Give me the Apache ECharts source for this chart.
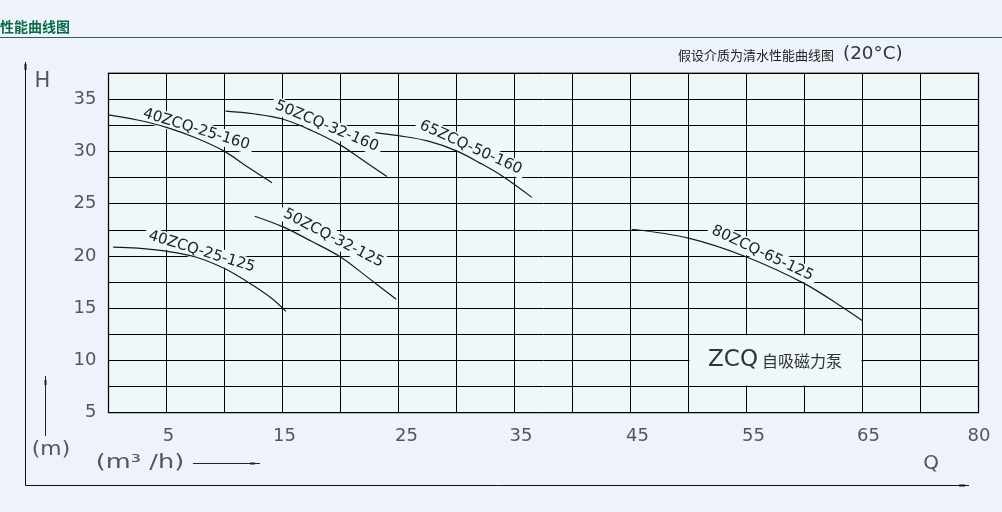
<!DOCTYPE html>
<html><head><meta charset="utf-8">
<script src="https://cdn.jsdelivr.net/npm/echarts/dist/echarts.min.js"></script>
<style>html,body{margin:0;padding:0;background:#eef2fb;}#c{width:1002px;height:512px;}</style>
</head><body><div id="c"></div>
<script>
// ---- tick labels ----
const xTickValues = [5, 15, 25, 35, 45, 55, 65, 75];
const xTickLabels = ['5', '15', '25', '35', '45', '55', '65', '80'];
const yTickValues = [5, 10, 15, 20, 25, 30, 35];
const yTickLabels = ['5', '10', '15', '20', '25', '30', '35'];

// ---- pump curves (Q m3/h, H m) ----
const curveNames = ['40ZCQ-25-160', '50ZCQ-32-160', '65ZCQ-50-160', '40ZCQ-25-125', '50ZCQ-32-125', '80ZCQ-65-125'];
const q40_160 = [0, 2.5, 5, 7.5, 10, 12, 14.1];
const h40_160 = [33.5, 33.0, 32.3, 31.3, 30.0, 28.5, 27.0];
const q50_160 = [10.1, 12.5, 15, 17.5, 20, 22, 24];
const h50_160 = [33.85, 33.6, 33.1, 32.0, 30.6, 29.1, 27.6];
const q65_160 = [23, 25, 27.5, 30, 32, 34, 36.5];
const h65_160 = [31.8, 31.5, 31.0, 30.05, 28.9, 27.6, 25.6];
const q40_125 = [0.4, 2.5, 5, 7.5, 10, 12, 14, 15.3];
const h40_125 = [20.85, 20.75, 20.45, 19.9, 18.8, 17.5, 16.0, 14.7];
const q50_125 = [12.6, 15, 17.5, 20, 22.4, 24.8];
const h50_125 = [23.8, 22.8, 21.4, 19.9, 17.9, 15.85];
const q80_125 = [45.1, 50, 55, 60, 63.4, 65];
const h80_125 = [22.55, 21.7, 19.9, 17.35, 15.0, 13.8];

// curve label anchors (data coords) and tilt in degrees
const labelQ = [7.57, 18.81, 31.23, 8.03, 19.38, 56.38];
const labelH = [32.11, 32.41, 30.37, 20.4, 21.68, 20.25];
const labelTilt = [17, 22.7, 24.4, 17, 27.4, 25.3];

const curvesQ = [q40_160, q50_160, q65_160, q40_125, q50_125, q80_125];
const curvesH = [h40_160, h50_160, h65_160, h40_125, h50_125, h80_125];

const pageBg = '#eef2fb';
const plotBg = '#eef8f8';
const font = 'DejaVu Sans';
const cjk = '"Noto Sans CJK SC"';

const chart = echarts.init(document.getElementById('c'), null, {renderer: 'canvas'});

const xPad = [4, 4, 16, 13, 14, 14, 12, 1];
const xRich = {};
xPad.forEach((p, i) => { xRich['o' + i] = {fontSize: 18, fontFamily: font, color: '#555', padding: [0, 0, 0, p]}; });

chart.setOption({
  backgroundColor: pageBg,
  animation: false,
  grid: {left: 108.5, top: 73, width: 870, height: 339.7, show: true,
         backgroundColor: plotBg, borderColor: '#7a7a7a', borderWidth: 1.5},
  xAxis: {
    type: 'value', min: 0, max: 75, interval: 5,
    axisLine: {show: false}, axisTick: {show: false},
    splitLine: {show: true, lineStyle: {color: '#000', width: 1}},
    axisLabel: {
      margin: 15, fontSize: 18, fontFamily: font, color: '#555',
      formatter: v => { const i = xTickValues.indexOf(v); return i < 0 ? '' : '{o' + i + '|' + xTickLabels[i] + '}'; },
      rich: xRich
    }
  },
  yAxis: {
    type: 'value', min: 5, max: 37.5, interval: 2.5,
    axisLine: {show: false}, axisTick: {show: false},
    splitLine: {show: true, lineStyle: {color: '#000', width: 1}},
    axisLabel: {
      margin: 12, fontSize: 18, fontFamily: font, color: '#555', padding: [14, 0, 0, 0],
      formatter: v => { const i = yTickValues.indexOf(v); return i < 0 ? '' : yTickLabels[i]; }
    }
  },
  series: curvesQ.map((qs, k) => ({
    type: 'line', name: curveNames[k],
    data: qs.map((q, i) => [q, curvesH[k][i]]),
    smooth: 0.35, symbol: 'none', z: 3,
    lineStyle: {color: '#1a1a1a', width: 1.2}
  }))
});

function px(q, h) { return chart.convertToPixel({gridIndex: 0}, [q, h]); }

const g = [];
// header
g.push({type: 'text', x: 0, y: 27, z: 5, style: {text: '性能曲线图', font: 'bold 14px ' + cjk, fill: '#0b6b48', verticalAlign: 'middle'}});
g.push({type: 'line', z: 5, shape: {x1: 0, y1: 37.5, x2: 1002, y2: 37.5}, style: {stroke: '#2f5f50', lineWidth: 1}});
// subtitle
g.push({type: 'text', x: 678, y: 55, z: 5, style: {text: '假设介质为清水性能曲线图', font: '13px ' + cjk, fill: '#222', verticalAlign: 'middle'}});
g.push({type: 'text', x: 843, y: 55, z: 5, scaleX: 1.08, style: {text: '(20°C)', font: '17px ' + font, fill: '#333', verticalAlign: 'middle'}});
// outer axis frame
g.push({type: 'line', z: 5, shape: {x1: 25.5, y1: 62, x2: 25.5, y2: 485.5}, style: {stroke: '#111', lineWidth: 1}});
g.push({type: 'rect', z: 5, shape: {x: 24.5, y: 64, width: 2, height: 6}, style: {fill: '#111'}});
g.push({type: 'line', z: 5, shape: {x1: 25.5, y1: 485.5, x2: 969, y2: 485.5}, style: {stroke: '#111', lineWidth: 1}});
g.push({type: 'rect', z: 5, shape: {x: 959, y: 484.5, width: 6, height: 2}, style: {fill: '#111'}});
g.push({type: 'text', x: 42.5, y: 82, z: 5, style: {text: 'H', font: '21px ' + font, fill: '#555', align: 'center', verticalAlign: 'middle'}});
g.push({type: 'text', x: 931, y: 464, z: 5, style: {text: 'Q', font: '20px ' + font, fill: '#555', align: 'center', verticalAlign: 'middle'}});
// unit labels and small arrows
g.push({type: 'text', x: 51, y: 450, z: 5, scaleX: 1.15, style: {text: '(m)', font: '19px ' + font, fill: '#555', align: 'center', verticalAlign: 'middle'}});
g.push({type: 'line', z: 5, shape: {x1: 45.5, y1: 376, x2: 45.5, y2: 436}, style: {stroke: '#222', lineWidth: 1}});
g.push({type: 'rect', z: 5, shape: {x: 44.5, y: 380, width: 2, height: 5}, style: {fill: '#222'}});
g.push({type: 'text', x: 140, y: 463.5, z: 5, scaleX: 1.35, style: {text: '(m³ /h)', font: '19px ' + font, fill: '#555', align: 'center', verticalAlign: 'middle'}});
g.push({type: 'line', z: 5, shape: {x1: 193, y1: 463.5, x2: 260, y2: 463.5}, style: {stroke: '#222', lineWidth: 1}});
g.push({type: 'rect', z: 5, shape: {x: 250, y: 462.5, width: 5, height: 2}, style: {fill: '#222'}});

// curve labels (with masking background that hides grid lines)
curveNames.forEach((name, k) => {
  const p = px(labelQ[k], labelH[k]);
  g.push({type: 'text', x: p[0], y: p[1], z: 1, rotation: -labelTilt[k] * Math.PI / 180,
    style: {text: name, font: '15px ' + font, fill: '#222', align: 'center', verticalAlign: 'middle',
            backgroundColor: plotBg, padding: [1, 4]}});
});

// product name box
const b1 = px(50, 12.5), b2 = px(65, 7.5);
g.push({type: 'rect', z: 1, shape: {x: b1[0] + 1, y: b1[1] + 1, width: b2[0] - b1[0] - 2, height: b2[1] - b1[1] - 2}, style: {fill: plotBg}});
const tc = px(57.46, 10);
g.push({type: 'text', x: tc[0], y: tc[1], z: 1,
  style: {text: '{a|ZCQ}{b|自吸磁力泵}', align: 'center', verticalAlign: 'middle',
    rich: {a: {font: '23px ' + font, fill: '#333', padding: [0, 4, 0, 0]}, b: {font: '16px ' + cjk, fill: '#333'}}}});

chart.setOption({graphic: g});
</script>
</body></html>
